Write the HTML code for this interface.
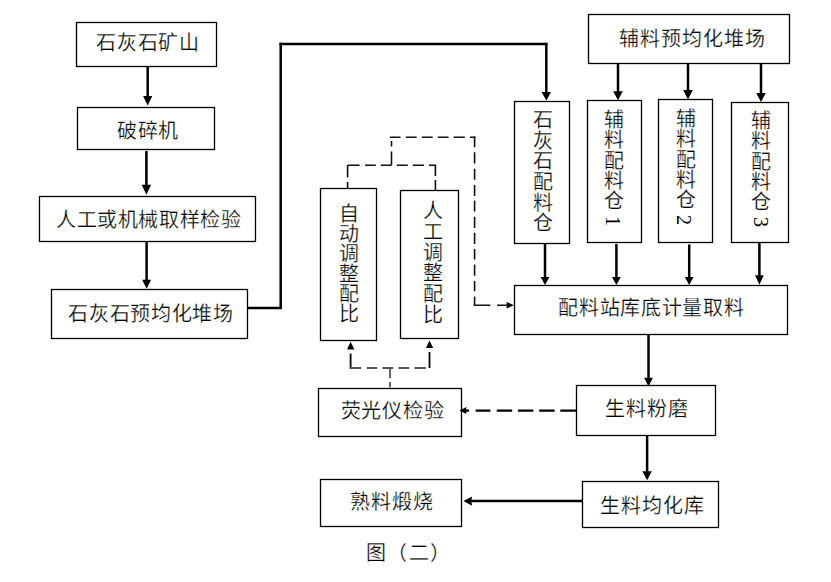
<!DOCTYPE html>
<html lang="zh-CN">
<head>
<meta charset="utf-8">
<style>
html,body{margin:0;padding:0;background:#fff;}
body{width:831px;height:582px;position:relative;overflow:hidden;font-family:"Liberation Serif",serif;color:#000;}
svg{position:absolute;left:0;top:0;}
.t,.v,.d{position:absolute;font-size:20px;line-height:20px;white-space:nowrap;}
.v{writing-mode:vertical-rl;}
.d{transform:rotate(90deg);transform-origin:0 0;font-family:"Liberation Serif",serif;}
.t,.v{-webkit-text-stroke:0.25px #fff;}

</style>
</head>
<body>
<svg width="831" height="582" viewBox="0 0 831 582">
<g fill="none" stroke="#000" stroke-width="1.3">
<rect x="76.5" y="22.5" width="140" height="44"/>
<rect x="77.5" y="107.5" width="137" height="42"/>
<rect x="39.5" y="196.5" width="216" height="45"/>
<rect x="51.5" y="289.5" width="196" height="49"/>
<rect x="588.5" y="14.5" width="201" height="49"/>
<rect x="514.5" y="101.5" width="55" height="142"/>
<rect x="587.5" y="100.5" width="54" height="142"/>
<rect x="658.5" y="99.5" width="54" height="143"/>
<rect x="731.5" y="102.5" width="57" height="140"/>
<rect x="514.5" y="285.5" width="273" height="49"/>
<rect x="320.5" y="188.5" width="56" height="152"/>
<rect x="400.5" y="190.5" width="58" height="148"/>
<rect x="318.5" y="388.5" width="143" height="48"/>
<rect x="576.5" y="385.5" width="139" height="50"/>
<rect x="582.5" y="481.5" width="136" height="46"/>
<rect x="320.5" y="479.5" width="141" height="47"/>
</g>
<g fill="none" stroke="#000" stroke-width="2.5">
<path d="M147.7 66 V97.0"/>
<path d="M146.4 151 V185.7"/>
<path d="M146.6 241 V280.8"/>
<path d="M546.3 42.8 V93.0"/>
<path d="M618.0 63 V92.3"/>
<path d="M688.0 63 V90.9"/>
<path d="M761.0 63 V94.0"/>
<path d="M545.0 243 V278.1"/>
<path d="M616.4 244 V278.0"/>
<path d="M689.2 244.5 V278.0"/>
<path d="M759.4 242 V276.3"/>
<path d="M648.5 334 V378.8"/>
<path d="M647.1 435 V472.2"/>
<path d="M247.5 308 H281.9"/>
<path d="M280.7 308.5 V42.8"/>
<path d="M279.5 44.0 H547.4"/>
<path d="M582 501 H471"/>
</g>
<g fill="#000">
<path d="M143.1 96.0 H152.29999999999998 L147.7 105.6 Z"/>
<path d="M141.65 184.7 H151.15 L146.4 194.8 Z"/>
<path d="M142.1 279.8 H151.1 L146.6 288.8 Z"/>
<path d="M541.5999999999999 92.0 H551.0 L546.3 100.6 Z"/>
<path d="M613.15 91.3 H622.85 L618.0 100.2 Z"/>
<path d="M683.15 89.9 H692.85 L688.0 99.4 Z"/>
<path d="M756.2 93.0 H765.8 L761.0 102.0 Z"/>
<path d="M540.6 277.1 H549.4 L545.0 285.0 Z"/>
<path d="M612.0 277.0 H620.8 L616.4 285.0 Z"/>
<path d="M684.8000000000001 277.0 H693.6 L689.2 285.0 Z"/>
<path d="M755.0 275.3 H763.8 L759.4 284.8 Z"/>
<path d="M644.1 377.8 H652.9 L648.5 386.4 Z"/>
<path d="M642.35 471.2 H651.85 L647.1 480.3 Z"/>
<path d="M463.4 501.1 L472.2 496.5 L471.2 501.1 L472.2 505.8 Z"/>
</g>
<g fill="none" stroke="#111" stroke-width="1.6">
<path d="M389.9 137.3 H400.5 M405.9 137.3 H416.7 M421.9 137.3 H432.7 M437.8 137.3 H448.6 M453.6 137.3 H464.8 M470 137.3 H475.4"/>
<path d="M474.6 136.5 V147.2 M474.6 152.3 V163.5 M474.6 168.7 V179.8 M474.6 185 V196 M474.6 200.4 V211.6 M474.6 216.8 V228 M474.6 232.7 V243.9 M474.6 249 V259.4 M474.6 264.6 V275.7 M474.6 280.9 V291.2 M474.6 296.4 V306"/>
<path d="M473.8 305.2 H490.3 M497.1 305.2 H506.8"/>
<path d="M391.5 141 V146.5 M391.5 151.5 V165"/>
<path d="M348 165.2 H359.6 M365.1 165.2 H375.8 M380.8 165.2 H391.6 M396.7 165.2 H407.8 M412.8 165.2 H424 M429 165.2 H436.1"/>
<path d="M347.6 165 V177.5 M347.6 182 V188.5"/>
<path d="M435.4 165 V175.9 M435.4 180.1 V190.2"/>
</g>
<g fill="none" stroke="#000" stroke-width="1.8">
<path d="M350.6 353.6 V368.8"/>
<path d="M429.5 352 V368"/>
</g>
<g fill="none" stroke="#555" stroke-width="1.8">
<path d="M349.8 368 H361.1 M366.8 368 H377.1 M382.3 368 H393.2 M398.4 368 H409.2 M414.4 368 H425.7"/>
<path d="M390 368 V378.3 M390 381.9 V387.5"/>
</g>
<g fill="#000">
<path d="M506.6 301.9 L513.8 305.2 L506.6 308.6 Z"/>
<path d="M347 349.4 L350.6 341.8 L354.4 349.4 Z"/>
<path d="M426 347.9 L429.5 340.4 L433.2 347.9 Z"/>
<path d="M459.3 410.6 L466.6 407.1 L465.8 410.6 L466.6 414.1 Z"/>
</g>
<g fill="none" stroke="#000" stroke-width="2.2">
<path d="M464 410.7 H469 M475.6 410.7 H490.4 M496.8 410.7 H512.2 M518 410.7 H533.4 M539.2 410.7 H554.6 M560.3 410.7 H577"/>
</g>
</svg>
<div class="t" style="left:95.8px;top:33.25px;letter-spacing:0.9px;">石灰石矿山</div>
<div class="t" style="left:117.0px;top:121.05px;letter-spacing:0.5px;">破碎机</div>
<div class="t" style="left:56.0px;top:209.55px;letter-spacing:0.62px;">人工或机械取样检验</div>
<div class="t" style="left:68.3px;top:303.65px;letter-spacing:0.69px;">石灰石预均化堆场</div>
<div class="t" style="left:619.35px;top:28.85px;letter-spacing:0.9px;">辅料预均化堆场</div>
<div class="t" style="left:558.25px;top:297.75px;letter-spacing:0.69px;">配料站库底计量取料</div>
<div class="t" style="left:340.5px;top:400.65px;letter-spacing:0.75px;">荧光仪检验</div>
<div class="t" style="left:605.15px;top:398.95px;letter-spacing:1.1px;">生料粉磨</div>
<div class="t" style="left:600.3px;top:495.75px;letter-spacing:0.85px;">生料均化库</div>
<div class="t" style="left:350.35px;top:491.55px;letter-spacing:1.0px;">熟料煅烧</div>
<div class="t" style="left:365.75px;top:543.35px;letter-spacing:1.5px;">图（二）</div>
<div class="v" style="left:531.1px;top:108.75px;letter-spacing:0.7px;">石灰石配料仓</div>
<div class="v" style="left:602.85px;top:108.7px;letter-spacing:0.25px;">辅料配料仓</div>
<div class="v" style="left:674.2px;top:107.6px;letter-spacing:0.25px;">辅料配料仓</div>
<div class="v" style="left:749.9px;top:110.3px;letter-spacing:0.25px;">辅料配料仓</div>
<div class="d" style="left:623.15px;top:216.35px;">1</div>
<div class="d" style="left:694.25px;top:214.65px;">2</div>
<div class="d" style="left:770.5px;top:216.7px;">3</div>
<div class="v" style="left:337.5px;top:203.45px;">自动调整配比</div>
<div class="v" style="left:421.15px;top:200.0px;letter-spacing:0.8px;">人工调整配比</div>
</body>
</html>
